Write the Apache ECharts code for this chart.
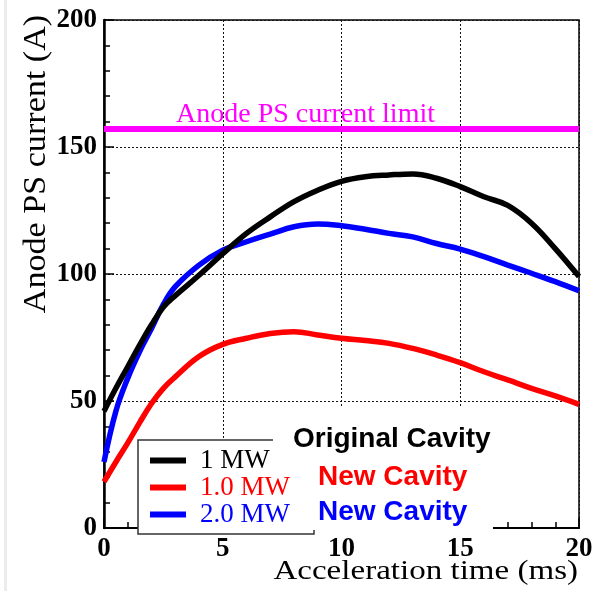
<!DOCTYPE html>
<html>
<head>
<meta charset="utf-8">
<script src="https://cdn.jsdelivr.net/npm/echarts@6/dist/echarts.min.js"></script>
<style>
    body { margin: 0; background: #fff; }
    #chart { width: 596px; height: 591px; }
</style>
</head>
<body>
<div id="chart"></div>
<script>

// Acceleration time (ms)
var timeMs = [0, 0.5, 1, 1.5, 2, 2.5, 3, 4, 5, 6, 7, 8, 9, 10, 11, 12, 13, 14, 15, 16, 17, 18, 19, 20];

// Anode PS current (A)
var original1MW = [46, 55, 63.5, 72, 80, 87, 91.5, 99.5, 108, 116, 122.5, 128.5, 133, 136.5, 138.3, 139, 139.4, 137.7, 134.4, 130.4, 127, 120, 110, 99];
var newCavity1MW = [18.2, 26, 33.5, 41.5, 49, 55, 59.5, 67.5, 72.3, 74.7, 76.6, 77.3, 76, 74.7, 73.8, 72.7, 70.7, 68.1, 65.1, 61.5, 58.3, 55, 52, 48.7];
var newCavity2MW = [26, 46, 59, 69.5, 78.5, 88, 95, 103.5, 109.4, 112.7, 115.7, 118.6, 119.7, 119, 117.6, 116, 114.6, 112, 109.8, 106.8, 103.5, 100.3, 97, 93.4];

var currentLimit = 157;

var seriesNames = ['1 MW', '1.0 MW', '2.0 MW'];
var seriesColors = ['#000000', '#ff0000', '#0000ff'];

var xTicks = { min: 0, max: 20, interval: 5 };
var yTicks = { min: 0, max: 200, interval: 50 };

function pairs(ys) {
    return timeMs.map(function (t, i) { return [t, ys[i]]; });
}

var chart = echarts.init(document.getElementById('chart'));

var serif = '"Liberation Serif", "Times New Roman", serif';
var sans = '"Liberation Sans", Arial, sans-serif';

// Axis common bits
var axisLabelStyle = {
    color: '#000',
    fontFamily: serif,
    fontWeight: 'bold',
    fontSize: 27
};
var dotted = {
    show: true,
    lineStyle: { color: '#111', width: 1, type: [2, 2] }
};

function curve(name, color, ys, z) {
    return {
        name: name,
        type: 'line',
        data: pairs(ys),
        smooth: 0.4,
        showSymbol: false,
        symbol: 'none',
        z: z,
        lineStyle: { color: color, width: 5.5 },
        itemStyle: { color: color },
        emphasis: { disabled: true }
    };
}

var limitSeries = curve(seriesNames[0], seriesColors[0], original1MW, 5);
limitSeries.markLine = {
    silent: true,
    symbol: ['none', 'none'],
    lineStyle: { color: '#ff00ff', width: 6, type: 'solid' },
    label: {
        show: true,
        position: 'insideStartTop',
        distance: [72, 1],
        formatter: 'Anode PS current limit',
        color: '#ff00ff',
        fontFamily: serif,
        fontSize: 28
    },
    data: [{ yAxis: currentLimit }]
};

chart.setOption({
    animation: false,

    grid: {
        left: 104,
        right: 17,
        top: 20,
        bottom: 63,
        show: true,
        borderColor: '#000',
        borderWidth: 1.5,
        backgroundColor: 'transparent'
    },

    // Legend box (bottom left)
    legend: {
        orient: 'vertical',
        left: 138,
        top: 440,
        padding: [7, 24, 6, 12],
        itemGap: 0,
        itemWidth: 36,
        itemHeight: 6,
        icon: 'rect',
        borderColor: '#333',
        borderWidth: 1.5,
        backgroundColor: '#fff',
        selectedMode: false,
        textStyle: {
            fontFamily: serif,
            fontSize: 27,
            lineHeight: 25,
            padding: [0, 0, 0, 9]
        },
        data: [
            { name: seriesNames[0], textStyle: { color: seriesColors[0] } },
            { name: seriesNames[1], textStyle: { color: seriesColors[1] } },
            { name: seriesNames[2], textStyle: { color: seriesColors[2] } }
        ]
    },

    // Horizontal axis
    xAxis: {
        type: 'value',
        min: xTicks.min,
        max: xTicks.max,
        interval: xTicks.interval,
        axisLine: { show: true, onZero: false, lineStyle: { color: '#000', width: 2 } },
        axisTick: { show: true, inside: true, length: 10, lineStyle: { color: '#000', width: 1.5 } },
        minorTick: { show: true, splitNumber: 5, length: 6, lineStyle: { color: '#000', width: 1.5 } },
        axisLabel: Object.assign({ margin: 8 }, axisLabelStyle),
        splitLine: dotted
    },

    // Vertical axis
    yAxis: {
        type: 'value',
        min: yTicks.min,
        max: yTicks.max,
        interval: yTicks.interval,
        axisLine: { show: true, onZero: false, lineStyle: { color: '#000', width: 2.5 } },
        axisTick: { show: true, inside: true, length: 10, lineStyle: { color: '#000', width: 1.5 } },
        minorTick: { show: true, splitNumber: 5, length: 6, lineStyle: { color: '#000', width: 1.5 } },
        axisLabel: Object.assign({ margin: 7 }, axisLabelStyle),
        splitLine: dotted
    },

    series: [
        curve(seriesNames[1], seriesColors[1], newCavity1MW, 3),
        curve(seriesNames[2], seriesColors[2], newCavity2MW, 4),
        limitSeries
    ],

    graphic: [
        // light frame strip on the left edge
        { type: 'rect', left: 4, top: 0, z: 1, shape: { width: 3, height: 591 }, style: { fill: '#ececec' } },

        // axis titles
        {
            type: 'text', x: 37, y: 164, rotation: Math.PI / 2, scaleX: 1.1, z: 50,
            style: { text: 'Anode PS current (A)', font: '31px ' + serif, fill: '#000', align: 'center', verticalAlign: 'middle' }
        },
        {
            type: 'text', x: 578, y: 572, scaleX: 1.18, z: 50,
            style: { text: 'Acceleration time (ms)', font: '28px ' + serif, fill: '#000', align: 'right', verticalAlign: 'middle' }
        },

        // white pave behind the cavity labels
        { type: 'rect', x: 273, y: 408, z: 100, shape: { width: 220, height: 44 }, style: { fill: '#fff' } },
        { type: 'rect', x: 297, y: 452, z: 100, shape: { width: 196, height: 78 }, style: { fill: '#fff' } },

        {
            type: 'text', x: 293, y: 439, z: 101,
            style: { text: 'Original Cavity', font: 'bold 28px ' + sans, fill: '#000', verticalAlign: 'middle' }
        },
        {
            type: 'text', x: 318, y: 477, z: 101,
            style: { text: 'New Cavity', font: 'bold 28px ' + sans, fill: '#ff0000', verticalAlign: 'middle' }
        },
        {
            type: 'text', x: 318, y: 512, z: 101,
            style: { text: 'New Cavity', font: 'bold 28px ' + sans, fill: '#0000ff', verticalAlign: 'middle' }
        }
    ]
});
</script>
</body>
</html>
